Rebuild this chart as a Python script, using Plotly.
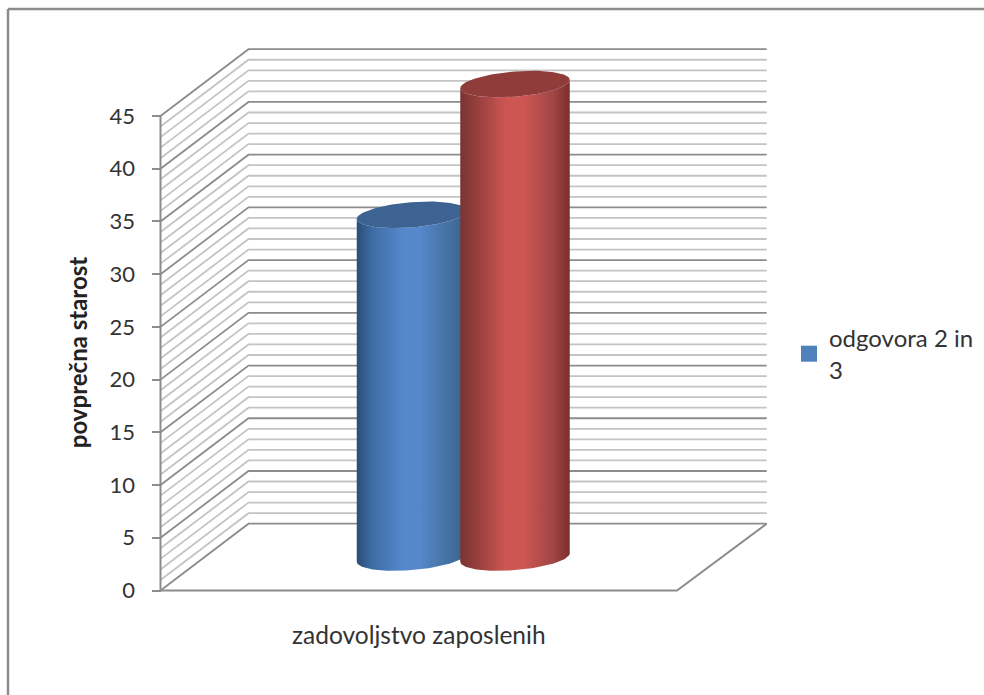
import numpy as np
import plotly.graph_objects as go

# --- data ---
category = ["zadovoljstvo zaposlenih"]
series_names = ["odgovora 2 in<br>3", "odgovora 4 in 5"]
series_values = [32.5, 44.9]
y_ticks = [0, 5, 10, 15, 20, 25, 30, 35, 40, 45]
y_minor = [v for v in range(0, 46) if v % 5]

# --- 3D-look geometry ---
W, H = 984, 695
PX = 10.544                 # pixels per value unit
Y0 = 590.5                  # pixel row of value 0
Y_TOP = 10                  # pixel row where the y axis domain ends (centres the axis title)
X_LEFT, X_RIGHT = 160.5, 677.0
DX, DY = 88.0, 66.8 / PX    # depth offset of the back wall
CENTRES = [411.5, 515.0]
RX = 54.75
BASE = 33.0 / PX            # lift of the bar base caused by mid depth
ELL_B, ELL_S = 12.6 / PX, 4.2 / PX
BLUE = dict(stops=["#2b4d77", "#3f6ea6", "#5587cb", "#5587cb", "#44709f", "#37608f"], top="#3c6391")
RED = dict(stops=["#7a3432", "#963f3d", "#cd5653", "#cd5653", "#a04644", "#7a2f2d"], top="#8f3c3a")
STOP_POS = [0, 0.15, 0.42, 0.58, 0.85, 1]
FONT = "Lato"
TXT = "#333333"
MAJOR, MINOR = "#8c8c8c", "#c4c4c4"


def grid_xy(vals):
    xs, ys = [], []
    for v in vals:
        xs += [X_LEFT, X_LEFT + DX, X_RIGHT + DX + 1.7, None]
        ys += [v, v + DY, v + DY, None]
    return xs, ys


def lower_arc(cx, cy, t):
    return cx + RX * np.cos(t), cy + ELL_S * np.cos(t) - ELL_B * np.sin(t)


fig = go.Figure()

x, y = grid_xy(y_minor)
fig.add_trace(go.Scatter(x=x, y=y, mode="lines", line=dict(color=MINOR, width=1.8),
                         showlegend=False, hoverinfo="skip"))
x, y = grid_xy(y_ticks)
fig.add_trace(go.Scatter(x=x, y=y, mode="lines", line=dict(color=MAJOR, width=1.8),
                         showlegend=False, hoverinfo="skip"))
# axis line and floor
fig.add_trace(go.Scatter(
    x=[X_LEFT, X_LEFT, None, X_LEFT, X_RIGHT, X_RIGHT + DX + 1.7],
    y=[y_ticks[-1], 0, None, 0, 0, DY],
    mode="lines", line=dict(color=MAJOR, width=2), showlegend=False, hoverinfo="skip"))

# cylinders
for val, cx, style in zip(series_values, CENTRES, [BLUE, RED]):
    t = np.linspace(np.pi, 0, 61)
    bx, by = lower_arc(cx, BASE, t)
    tx, ty = lower_arc(cx, BASE + val, t[::-1])
    fig.add_trace(go.Scatter(
        x=np.r_[bx, tx], y=np.r_[by, ty], mode="lines", fill="toself",
        line=dict(width=0, color="rgba(0,0,0,0)"),
        fillgradient=dict(type="horizontal", start=cx - RX, stop=cx + RX,
                          colorscale=[[p, c] for p, c in zip(STOP_POS, style["stops"])]),
        showlegend=False, hoverinfo="skip"))
    a = np.linspace(0, 2 * np.pi, 121)
    ex, ey = lower_arc(cx, BASE + val, a)
    fig.add_trace(go.Scatter(x=ex, y=ey, mode="lines", fill="toself", fillcolor=style["top"],
                             line=dict(width=0, color=style["top"]),
                             showlegend=False, hoverinfo="skip"))

# legend entry (only the first series is listed in the reference)
fig.add_trace(go.Scatter(x=[None], y=[None], mode="markers", name=series_names[0],
                         marker=dict(symbol="square", size=16, color="#4f81bd")))

fig.update_layout(
    width=W, height=H, margin=dict(l=0, r=0, t=0, b=0),
    paper_bgcolor="white", plot_bgcolor="white",
    font=dict(family=FONT, size=22, color=TXT),
    showlegend=True,
    legend=dict(x=789 / W, y=1 - 316 / H, xanchor="left", yanchor="top",
                bgcolor="rgba(0,0,0,0)", font=dict(family=FONT, size=24, color=TXT)),
    xaxis=dict(range=[0, W], domain=[0, 1], anchor="free", position=(H - Y0) / H,
               tickmode="array", tickvals=[(X_LEFT + X_RIGHT) / 2], ticktext=category,
               ticks="outside", ticklen=23, tickcolor="rgba(0,0,0,0)", tickwidth=1,
               showgrid=False, zeroline=False, showline=False,
               tickfont=dict(family=FONT, size=24.5, color=TXT)),
    yaxis=dict(range=[(Y0 - H) / PX, (Y0 - Y_TOP) / PX], domain=[0, (H - Y_TOP) / H],
               anchor="free", position=X_LEFT / W,
               tickmode="array", tickvals=y_ticks, ticks="outside", ticklen=9, tickwidth=2,
               tickcolor=MAJOR, ticklabelstandoff=12,
               showgrid=False, zeroline=False, showline=False,
               tickfont=dict(family=FONT, size=22, color=TXT),
               title=dict(text="<b>povprečna starost</b>", standoff=14,
                          font=dict(family=FONT, size=24, color="#222222"))),
    shapes=[
        dict(type="line", xref="paper", yref="paper", x0=8 / W, x1=1.02, y0=1 - 9 / H, y1=1 - 9 / H,
             line=dict(color=MAJOR, width=2.5)),
        dict(type="line", xref="paper", yref="paper", x0=8 / W, x1=8 / W, y0=1 - 9 / H, y1=-0.02,
             line=dict(color=MAJOR, width=2.5)),
    ],
)
fig.write_html("out.html", config=dict(displayModeBar=False),
               post_script="document.body.style.margin='0';document.documentElement.style.overflow='hidden';")
